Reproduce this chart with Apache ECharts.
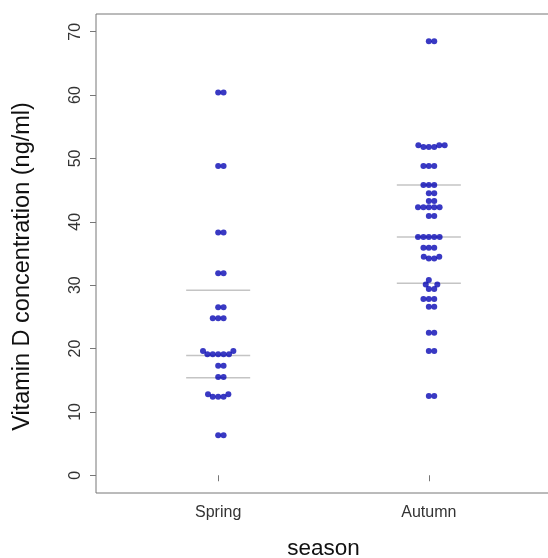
<!DOCTYPE html>
<html><head><meta charset="utf-8">
<script src="https://cdn.jsdelivr.net/npm/echarts@6/dist/echarts.min.js"></script>
<style>html,body{margin:0;padding:0;background:#fff}#c{width:548px;height:558px}</style>
</head><body><div id="c"></div>
<script>
// ---- data ----
const categories = ['Spring', 'Autumn'];
const springValues = [60.4, 60.4, 48.8, 48.8, 38.3, 38.3, 31.9, 31.9, 26.5, 26.5,
  24.8, 24.8, 24.8, 19.6, 19.6, 19.1, 19.1, 19.1, 19.1, 19.1, 17.3, 17.3, 15.5, 15.5,
  12.8, 12.8, 12.4, 12.4, 12.4, 6.3, 6.3];
const autumnValues = [12.5, 12.5, 19.6, 19.6, 22.5, 22.5, 26.6, 26.6, 27.8, 27.8, 27.8,
  29.4, 29.4, 30.1, 30.1, 30.8, 34.2, 34.2, 34.5, 34.5, 35.9, 35.9, 35.9,
  37.6, 37.6, 37.6, 37.6, 37.6, 40.9, 40.9, 42.3, 42.3, 42.3, 42.3, 42.3,
  43.3, 43.3, 44.5, 44.5, 45.8, 45.8, 45.8, 48.8, 48.8, 48.8,
  51.8, 51.8, 51.8, 52.1, 52.1, 52.1, 68.5, 68.5];
const springQuartiles = [15.4, 18.9, 29.2];
const autumnQuartiles = [30.3, 37.6, 45.8];
const yTicks = [0, 10, 20, 30, 40, 50, 60, 70];
const xTicks = [1, 2];

// ---- layout ----
const GRID = { left: 96, top: 14, width: 455, height: 479 };
const X_MIN = 0.42, X_MAX = 2.58, Y_MIN = -2.8, Y_MAX = 72.8;
const DOT = 5.4;           // swarm spacing in px
const HALF_LINE = 0.152;   // half width of quartile segments (x units)
const pxPerX = GRID.width / (X_MAX - X_MIN);
const pxPerY = GRID.height / (Y_MAX - Y_MIN);

// beeswarm "swarm" layout (ascending priority)
function swarm(values) {
  const placed = [];
  const order = values.map((v, i) => i).sort((a, b) => values[a] - values[b]);
  const res = new Array(values.length);
  for (const i of order) {
    const y = values[i] * pxPerY;
    const cands = [0];
    for (const p of placed) {
      const dy = Math.abs(p.y - y);
      if (dy < DOT) { const dx = Math.sqrt(DOT * DOT - dy * dy); cands.push(p.x + dx, p.x - dx); }
    }
    cands.sort((a, b) => { const d = Math.abs(a) - Math.abs(b); return Math.abs(d) > 1e-6 ? d : b - a; });
    let best = 0;
    for (const c of cands) {
      if (placed.every(p => (p.x - c) ** 2 + (p.y - y) ** 2 >= DOT * DOT - 1e-6)) { best = c; break; }
    }
    placed.push({ x: best, y });
    res[i] = best / pxPerX;
  }
  return res;
}

const groups = [springValues, autumnValues];
const quartiles = [springQuartiles, autumnQuartiles];
const series = [];
groups.forEach((vals, gi) => {
  const offs = swarm(vals);
  quartiles[gi].forEach(q => {
    series.push({
      type: 'line', silent: true, showSymbol: false, z: 1,
      data: [[gi + 1 - HALF_LINE, q], [gi + 1 + HALF_LINE, q]],
      lineStyle: { color: '#c4c4c4', width: 1.5 }
    });
  });
  series.push({
    type: 'scatter', name: categories[gi], z: 3,
    symbolSize: 6,
    itemStyle: { color: '#0808b4' },
    data: vals.map((v, i) => [gi + 1 + offs[i], v])
  });
});

const FONT = 'Liberation Sans, Arial, sans-serif';
const chart = echarts.init(document.getElementById('c'), null, { renderer: 'canvas' });
chart.setOption({
  animation: false,
  backgroundColor: '#fff',
  grid: { left: GRID.left, top: GRID.top, width: GRID.width, height: GRID.height,
    outerBoundsMode: 'none', containLabel: false,
    show: true, borderColor: '#777', borderWidth: 1 },
  xAxis: {
    type: 'value', min: X_MIN, max: X_MAX,
    axisLine: { show: false }, splitLine: { show: false },
    axisTick: { show: true, customValues: xTicks, length: 6, lineStyle: { color: '#777' } },
    axisLabel: { customValues: xTicks, formatter: v => categories[Math.round(v) - 1],
      fontSize: 16, color: '#333', margin: 12, fontFamily: FONT },
    name: 'season', nameLocation: 'middle', nameGap: 44,
    nameTextStyle: { fontSize: 22.5, color: '#111', fontFamily: FONT }
  },
  yAxis: {
    type: 'value', min: Y_MIN, max: Y_MAX,
    axisLine: { show: false }, splitLine: { show: false },
    axisTick: { show: true, customValues: yTicks, length: 6, lineStyle: { color: '#777' } },
    axisLabel: { customValues: yTicks, rotate: 90, fontSize: 16, color: '#333', margin: 12,
      fontFamily: FONT },
    name: 'Vitamin D concentration (ng/ml)', nameLocation: 'middle', nameRotate: 90, nameGap: 61,
    nameTextStyle: { fontSize: 23.5, color: '#111', fontFamily: FONT, padding: [0, 26, 0, 0] }
  },
  series: series
});
</script>
</body></html>
